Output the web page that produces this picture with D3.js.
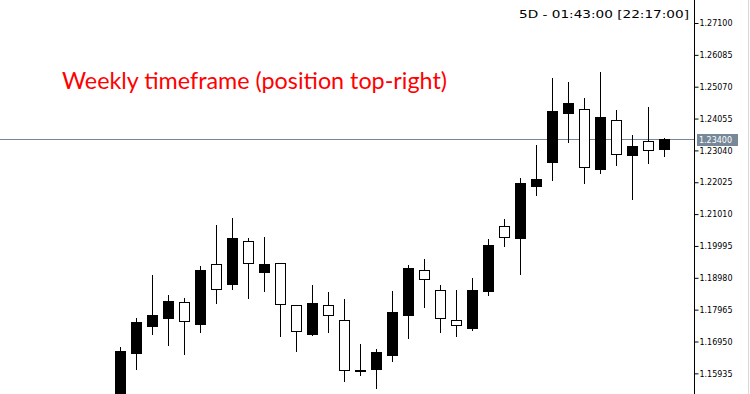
<!DOCTYPE html>
<html>
<head>
<meta charset="utf-8">
<script src="https://cdn.jsdelivr.net/npm/d3@7"></script>
<style>
  html, body { margin: 0; padding: 0; background: #ffffff; overflow: hidden; }
  svg { display: block; }
</style>
</head>
<body>
<svg id="chart" width="750" height="394"></svg>
<script>
// ---- data ----
const weeks = ["W01","W02","W03","W04","W05","W06","W07","W08","W09","W10",
               "W11","W12","W13","W14","W15","W16","W17","W18","W19","W20",
               "W21","W22","W23","W24","W25","W26","W27","W28","W29","W30",
               "W31","W32","W33","W34","W35"];
const openPrices  = [1.15000,1.16593,1.17454,1.17689,1.18199,1.17517,1.19410,1.18792,1.20143,1.19174,
                     1.19442,1.18104,1.17199,1.18104,1.17625,1.16000,1.16083,1.16529,1.17804,1.19219,
                     1.18582,1.17625,1.17390,1.18569,1.20621,1.20258,1.21915,1.22680,1.24241,1.24350,
                     1.22457,1.23999,1.22903,1.23340,1.23094];
const highPrices  = [1.16807,1.17731,1.19101,1.18454,1.18368,1.19388,1.20695,1.20918,1.20280,1.20312,
                     1.19452,1.18136,1.18782,1.18559,1.18336,1.16902,1.16752,1.18591,1.19420,1.19611,
                     1.18782,1.18623,1.19006,1.20248,1.20886,1.22192,1.23244,1.25379,1.25252,1.24742,
                     1.25570,1.24359,1.23563,1.24455,1.23467];
const lowPrices   = [1.14850,1.16083,1.17199,1.16848,1.16561,1.17262,1.18187,1.18633,1.18346,1.18569,
                     1.17135,1.16657,1.17167,1.17262,1.15701,1.15892,1.15478,1.16338,1.17071,1.18059,
                     1.17262,1.17135,1.17326,1.18442,1.20003,1.19111,1.21628,1.22106,1.23317,1.22011,
                     1.22329,1.22584,1.21501,1.22648,1.22871];
const closePrices = [1.16647,1.17571,1.17795,1.18241,1.17594,1.19229,1.18613,1.20239,1.19442,1.19410,
                     1.18155,1.17294,1.18167,1.17779,1.16032,1.16026,1.16606,1.17890,1.19292,1.18932,
                     1.17689,1.17466,1.18582,1.20016,1.20271,1.21992,1.22119,1.24296,1.24551,1.22501,
                     1.24104,1.22916,1.23180,1.23043,1.23400];
const tickValues = [1.27100,1.26085,1.25070,1.24055,1.23040,1.22025,1.21010,1.19995,1.18980,1.17965,1.16950,1.15935];
const bidPrice = 1.23400;
const titleText = "Weekly timeframe (position top-right)";
const timerText = "5D - 01:43:00 [22:17:00]";

const candles = weeks.map((w, i) => ({
  week: w, o: openPrices[i], h: highPrices[i], l: lowPrices[i], c: closePrices[i]
}));

// ---- layout ----
const svg = d3.select("#chart");
const axisX = 694.5;

const x = d3.scaleBand()
  .domain(weeks)
  .range([112.5, 672.5])
  .paddingInner(0.3)
  .paddingOuter(0.15);

const y = d3.scaleLinear()
  .domain([1.15935, 1.27100])
  .range([373.35, 23]);

const px = v => Math.round(y(v)) + 0.5;

// plot clip
svg.append("defs").append("clipPath").attr("id", "plot")
  .append("rect").attr("x", 0).attr("y", 0).attr("width", 694).attr("height", 394);

const plot = svg.append("g").attr("clip-path", "url(#plot)");

// bid line
plot.append("line")
  .attr("x1", 0).attr("x2", axisX)
  .attr("y1", px(bidPrice)).attr("y2", px(bidPrice))
  .attr("stroke", "#778899").attr("stroke-width", 1);

// candles
const g = plot.selectAll("g.candle").data(candles).enter().append("g").attr("class", "candle");

g.append("line")
  .attr("x1", d => x(d.week) + x.bandwidth() / 2)
  .attr("x2", d => x(d.week) + x.bandwidth() / 2)
  .attr("y1", d => px(d.h))
  .attr("y2", d => px(d.l))
  .attr("stroke", "#000").attr("stroke-width", 1)
  .attr("shape-rendering", "crispEdges");

g.append("rect")
  .attr("x", d => x(d.week) + x.bandwidth() / 2 - 5)
  .attr("width", 10)
  .attr("y", d => px(Math.max(d.o, d.c)))
  .attr("height", d => Math.max(1, px(Math.min(d.o, d.c)) - px(Math.max(d.o, d.c))))
  .attr("fill", d => d.c >= d.o ? "#000" : "#fff")
  .attr("stroke", "#000").attr("stroke-width", 1)
  .attr("shape-rendering", "crispEdges");

// right price axis
const axisG = svg.append("g")
  .attr("transform", `translate(${axisX},0)`)
  .call(d3.axisRight(y).tickValues(tickValues).tickSize(4).tickPadding(1).tickFormat(d3.format(".5f")));
axisG.select(".domain").attr("d", "M0,0V394").attr("stroke", "#000");
axisG.selectAll(".tick line").attr("stroke", "#000");
axisG.selectAll(".tick text")
  .attr("font-family", "'DejaVu Sans', sans-serif")
  .attr("font-size", "8.5px")
  .attr("fill", "#000")
  .attr("textLength", 33)
  .attr("lengthAdjust", "spacingAndGlyphs");

// right edge faint line
svg.append("line").attr("x1", 748.5).attr("x2", 748.5).attr("y1", 0).attr("y2", 394)
  .attr("stroke", "#d8d8d8");

// bid price label
const by = Math.round(y(bidPrice));
svg.append("rect")
  .attr("x", 697).attr("y", by - 5).attr("width", 41).attr("height", 12)
  .attr("fill", "#778899");
svg.append("text")
  .attr("x", 699).attr("y", by + 4)
  .attr("font-family", "'DejaVu Sans', sans-serif")
  .attr("font-size", "8.5px")
  .attr("fill", "#fff")
  .attr("textLength", 33)
  .attr("lengthAdjust", "spacingAndGlyphs")
  .text(d3.format(".5f")(bidPrice));

// timer text
svg.append("text")
  .attr("x", 519).attr("y", 17.5)
  .attr("font-family", "'DejaVu Sans', sans-serif")
  .attr("font-size", "11px")
  .attr("fill", "#000")
  .attr("textLength", 170)
  .attr("lengthAdjust", "spacingAndGlyphs")
  .text(timerText);

// red title
svg.append("text")
  .attr("x", 62).attr("y", 89)
  .attr("font-family", "Lato, 'Open Sans', sans-serif")
  .attr("font-size", "22.5px")
  .attr("fill", "#ff0000")
  .attr("textLength", 385)
  .attr("lengthAdjust", "spacingAndGlyphs")
  .text(titleText);
</script>
</body>
</html>
